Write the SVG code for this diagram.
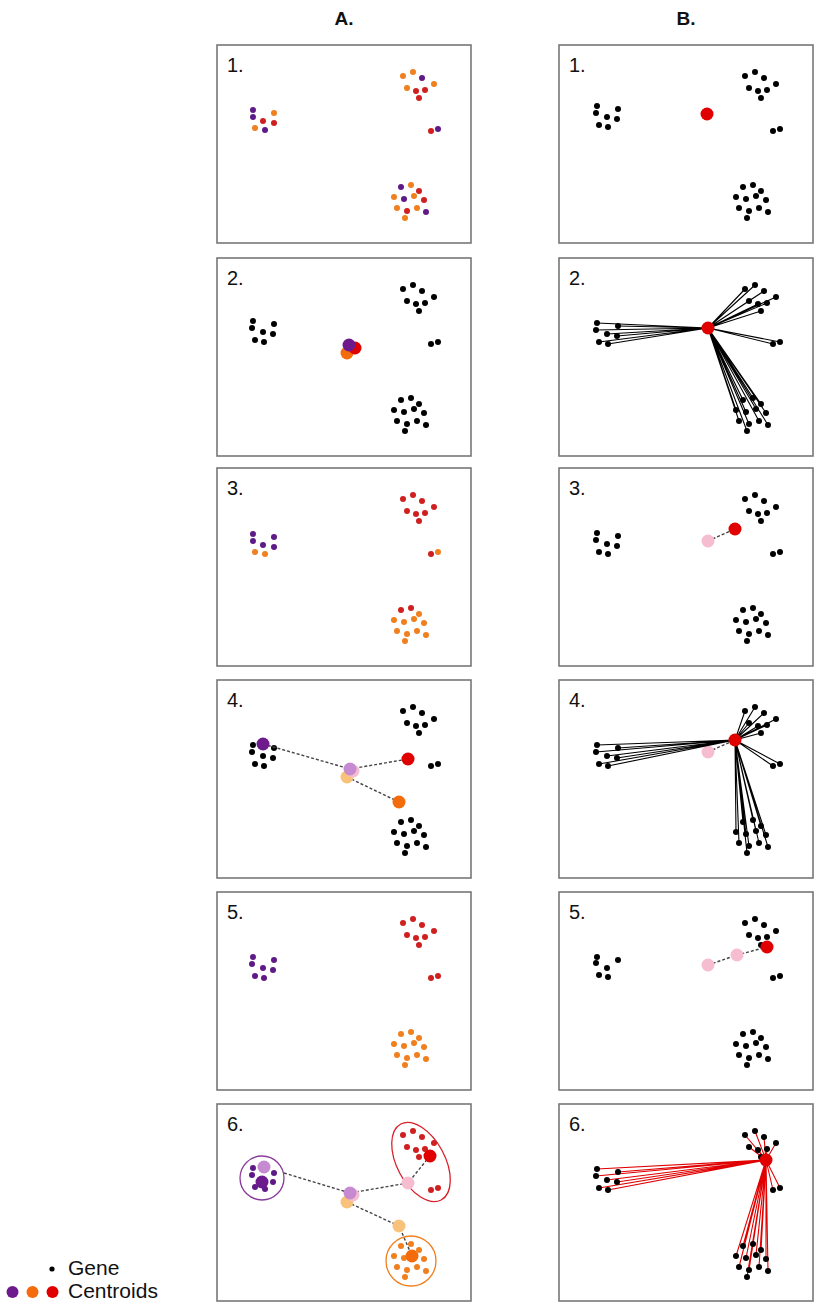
<svg xmlns="http://www.w3.org/2000/svg" width="823" height="1302" viewBox="0 0 823 1302">
<style>
.box{fill:#fff;stroke:#777;stroke-width:1.6}
.num{font-family:"Liberation Sans",Arial,sans-serif;font-size:20px;fill:#111}
.hdr{font-family:"Liberation Sans",Arial,sans-serif;font-size:19px;font-weight:bold;fill:#111}
.leg{font-family:"Liberation Sans",Arial,sans-serif;font-size:21px;fill:#111}
.p{fill:#5e1a86}.o{fill:#f07f1e}.r{fill:#cf1f1f}
.cp{fill:#6c1a8c}.co{fill:#f46b0c}.cr{fill:#e00000}
.gp{fill:#c58ad0}.go{fill:#f9c27a}.gk{fill:#f6bcd0}
.dash{stroke:#444;stroke-width:1.4;stroke-dasharray:3 2;fill:none}
.ln{stroke:#000;stroke-width:1.1;fill:none}
.lr{stroke:#e00000;stroke-width:1.1;fill:none}
</style>
<defs>
<g id="gL"><circle cx="38" cy="65" r="3"/><circle cx="37" cy="72" r="3"/><circle cx="59" cy="68" r="3"/><circle cx="48" cy="76" r="3"/><circle cx="58" cy="78" r="3"/><circle cx="40" cy="84" r="3"/><circle cx="49" cy="86" r="3"/></g>
<g id="gR"><circle cx="186" cy="31" r="3"/><circle cx="196" cy="27" r="3"/><circle cx="205" cy="33" r="3"/><circle cx="190" cy="43" r="3"/><circle cx="199" cy="46" r="3"/><circle cx="208" cy="45" r="3"/><circle cx="217" cy="39" r="3"/><circle cx="202" cy="53" r="3"/>
<circle cx="214" cy="86" r="3"/><circle cx="221" cy="84" r="3"/>
<circle cx="184" cy="142" r="3"/><circle cx="194" cy="140" r="3"/><circle cx="202" cy="146" r="3"/><circle cx="177" cy="152" r="3"/><circle cx="187" cy="154" r="3"/><circle cx="197" cy="151" r="3"/><circle cx="207" cy="155" r="3"/><circle cx="180" cy="163" r="3"/><circle cx="190" cy="166" r="3"/><circle cx="200" cy="163" r="3"/><circle cx="209" cy="167" r="3"/><circle cx="188" cy="173" r="3"/></g>
</defs>
<text class="hdr" x="344" y="25" text-anchor="middle">A.</text>
<text class="hdr" x="686" y="25" text-anchor="middle">B.</text>

<g id="A1" transform="translate(217,45)">
<rect class="box" x="0" y="0" width="254" height="198"/>
<text class="num" x="10" y="27">1.</text>
<circle class="p" cx="36" cy="65" r="3"/><circle class="p" cx="36" cy="72" r="3"/><circle class="o" cx="57" cy="68" r="3"/><circle class="r" cx="46" cy="76" r="3"/><circle class="r" cx="57" cy="78" r="3"/><circle class="o" cx="38" cy="83" r="3"/><circle class="p" cx="48" cy="85" r="3"/>
<circle class="o" cx="186" cy="31" r="3"/><circle class="o" cx="196" cy="27" r="3"/><circle class="p" cx="205" cy="33" r="3"/><circle class="o" cx="190" cy="43" r="3"/><circle class="r" cx="199" cy="46" r="3"/><circle class="r" cx="208" cy="45" r="3"/><circle class="o" cx="217" cy="39" r="3"/><circle class="r" cx="202" cy="53" r="3"/>
<circle class="r" cx="214" cy="86" r="3"/><circle class="p" cx="221" cy="84" r="3"/>
<circle class="p" cx="184" cy="142" r="3"/><circle class="o" cx="194" cy="140" r="3"/><circle class="r" cx="202" cy="146" r="3"/><circle class="o" cx="177" cy="152" r="3"/><circle class="p" cx="187" cy="154" r="3"/><circle class="o" cx="197" cy="151" r="3"/><circle class="r" cx="207" cy="155" r="3"/><circle class="o" cx="180" cy="163" r="3"/><circle class="r" cx="190" cy="166" r="3"/><circle class="o" cx="200" cy="163" r="3"/><circle class="p" cx="209" cy="167" r="3"/><circle class="o" cx="188" cy="173" r="3"/>
</g>

<g id="B1" transform="translate(559,45)">
<rect class="box" x="0" y="0" width="254" height="198"/>
<text class="num" x="10" y="27">1.</text>
<use href="#gL" y="-4" fill="#000"/><use href="#gR" fill="#000"/>
<circle class="cr" cx="148" cy="69" r="6.5"/>
</g>

<g id="A2" transform="translate(217,258)">
<rect class="box" x="0" y="0" width="254" height="198"/>
<text class="num" x="10" y="27">2.</text>
<use href="#gL" x="-2" y="-2" fill="#000"/><use href="#gR" fill="#000"/>
<circle class="co" cx="130" cy="95" r="6.5"/><circle class="cr" cx="138" cy="90" r="6.5"/><circle class="cp" cx="132" cy="87" r="6.5"/>
</g>

<g id="B2" transform="translate(559,258)">
<rect class="box" x="0" y="0" width="254" height="198"/>
<text class="num" x="10" y="27">2.</text>
<path class="ln" d="M149 70L38 65M149 70L37 72M149 70L59 68M149 70L48 76M149 70L58 78M149 70L40 84M149 70L49 86M149 70L186 31M149 70L196 27M149 70L205 33M149 70L190 43M149 70L199 46M149 70L208 45M149 70L217 39M149 70L202 53M149 70L214 86M149 70L221 84M149 70L184 142M149 70L194 140M149 70L202 146M149 70L177 152M149 70L187 154M149 70L197 151M149 70L207 155M149 70L180 163M149 70L190 166M149 70L200 163M149 70L209 167M149 70L188 173"/>
<use href="#gL" fill="#000"/><use href="#gR" fill="#000"/>
<circle class="cr" cx="149" cy="70" r="6.5"/>
</g>

<g id="A3" transform="translate(217,468)">
<rect class="box" x="0" y="0" width="254" height="198"/>
<text class="num" x="10" y="27">3.</text>
<circle class="p" cx="36" cy="66" r="3"/><circle class="p" cx="36" cy="73" r="3"/><circle class="p" cx="57" cy="69" r="3"/><circle class="p" cx="46" cy="77" r="3"/><circle class="p" cx="57" cy="79" r="3"/><circle class="o" cx="38" cy="84" r="3"/><circle class="o" cx="48" cy="86" r="3"/>
<g class="r"><circle cx="186" cy="31" r="3"/><circle cx="196" cy="27" r="3"/><circle cx="205" cy="33" r="3"/><circle cx="190" cy="43" r="3"/><circle cx="199" cy="46" r="3"/><circle cx="208" cy="45" r="3"/><circle cx="217" cy="39" r="3"/><circle cx="202" cy="53" r="3"/></g>
<circle class="r" cx="214" cy="86" r="3"/><circle class="o" cx="221" cy="84" r="3"/>
<circle class="r" cx="184" cy="142" r="3"/><circle class="r" cx="194" cy="140" r="3"/><g class="o"><circle cx="202" cy="146" r="3"/><circle cx="177" cy="152" r="3"/><circle cx="187" cy="154" r="3"/><circle cx="197" cy="151" r="3"/><circle cx="207" cy="155" r="3"/><circle cx="180" cy="163" r="3"/><circle cx="190" cy="166" r="3"/><circle cx="200" cy="163" r="3"/><circle cx="209" cy="167" r="3"/><circle cx="188" cy="173" r="3"/></g>
</g>

<g id="B3" transform="translate(559,468)">
<rect class="box" x="0" y="0" width="254" height="198"/>
<text class="num" x="10" y="27">3.</text>
<use href="#gL" fill="#000"/><use href="#gR" fill="#000"/>
<path class="dash" d="M149 73L176 61"/>
<circle class="gk" cx="149" cy="73" r="6.5"/><circle class="cr" cx="176" cy="61" r="6.5"/>
</g>

<g id="A4" transform="translate(217,680)">
<rect class="box" x="0" y="0" width="254" height="198"/>
<text class="num" x="10" y="27">4.</text>
<use href="#gL" x="-2" fill="#000"/><use href="#gR" fill="#000"/>
<path class="dash" d="M46 64L133 89L191 79M130 97L182 122"/>
<circle class="go" cx="130" cy="97" r="6.5"/><circle class="gk" cx="136" cy="91" r="6.5"/><circle class="gp" cx="133" cy="89" r="6.5"/>
<circle class="cp" cx="46" cy="64" r="6.5"/><circle class="cr" cx="191" cy="79" r="6.5"/><circle class="co" cx="182" cy="122" r="6.5"/>
</g>

<g id="B4" transform="translate(559,680)">
<rect class="box" x="0" y="0" width="254" height="198"/>
<text class="num" x="10" y="27">4.</text>
<path class="dash" d="M149 72L176 60"/>
<circle class="gk" cx="149" cy="72" r="6.5"/>
<path class="ln" d="M176 60L38 65M176 60L37 72M176 60L59 68M176 60L48 76M176 60L58 78M176 60L40 84M176 60L49 86M176 60L186 31M176 60L196 27M176 60L205 33M176 60L190 43M176 60L199 46M176 60L208 45M176 60L217 39M176 60L202 53M176 60L214 86M176 60L221 84M176 60L184 142M176 60L194 140M176 60L202 146M176 60L177 152M176 60L187 154M176 60L197 151M176 60L207 155M176 60L180 163M176 60L190 166M176 60L200 163M176 60L209 167M176 60L188 173"/>
<use href="#gL" fill="#000"/><use href="#gR" fill="#000"/>
<circle class="cr" cx="176" cy="60" r="6.5"/>
</g>

<g id="A5" transform="translate(217,892)">
<rect class="box" x="0" y="0" width="254" height="198"/>
<text class="num" x="10" y="27">5.</text>
<use href="#gL" x="-2" class="p"/>
<g class="r"><circle cx="186" cy="31" r="3"/><circle cx="196" cy="27" r="3"/><circle cx="205" cy="33" r="3"/><circle cx="190" cy="43" r="3"/><circle cx="199" cy="46" r="3"/><circle cx="208" cy="45" r="3"/><circle cx="217" cy="39" r="3"/><circle cx="202" cy="53" r="3"/>
<circle cx="214" cy="86" r="3"/><circle cx="221" cy="84" r="3"/></g>
<g class="o"><circle cx="184" cy="142" r="3"/><circle cx="194" cy="140" r="3"/><circle cx="202" cy="146" r="3"/><circle cx="177" cy="152" r="3"/><circle cx="187" cy="154" r="3"/><circle cx="197" cy="151" r="3"/><circle cx="207" cy="155" r="3"/><circle cx="180" cy="163" r="3"/><circle cx="190" cy="166" r="3"/><circle cx="200" cy="163" r="3"/><circle cx="209" cy="167" r="3"/><circle cx="188" cy="173" r="3"/></g>
</g>

<g id="B5" transform="translate(559,892)">
<rect class="box" x="0" y="0" width="254" height="198"/>
<text class="num" x="10" y="27">5.</text>
<g fill="#000"><circle cx="38" cy="65" r="3"/><circle cx="37" cy="71" r="3"/><circle cx="59" cy="68" r="3"/><circle cx="48" cy="76" r="3"/><circle cx="40" cy="83" r="3"/><circle cx="49" cy="85" r="3"/></g>
<use href="#gR" fill="#000"/>
<path class="dash" d="M149 73L178 63L208 55"/>
<circle class="gk" cx="149" cy="73" r="6.5"/><circle class="gk" cx="178" cy="63" r="6.5"/><circle class="cr" cx="208" cy="55" r="6.5"/>
</g>

<g id="A6" transform="translate(217,1104)">
<rect class="box" x="0" y="0" width="254" height="197"/>
<text class="num" x="10" y="27">6.</text>
<path class="dash" d="M67 69L133 89L191 79L213 52M130 98L182 122L195 152"/>
<circle fill="none" stroke="#8a3a9a" stroke-width="1.3" cx="45" cy="74" r="22"/>
<ellipse fill="none" stroke="#d81f2a" stroke-width="1.3" cx="204" cy="58" rx="24" ry="43" transform="rotate(-28 204 58)"/>
<circle fill="none" stroke="#f07f1e" stroke-width="1.3" cx="194" cy="157" r="25"/>
<g class="p"><circle cx="36" cy="64" r="3"/><circle cx="35" cy="71" r="3"/><circle cx="57" cy="69" r="3"/><circle cx="56" cy="78" r="3"/><circle cx="38" cy="83" r="3"/><circle cx="48" cy="85" r="3"/></g>
<g class="r"><circle cx="186" cy="31" r="3"/><circle cx="196" cy="27" r="3"/><circle cx="205" cy="33" r="3"/><circle cx="190" cy="43" r="3"/><circle cx="199" cy="46" r="3"/><circle cx="208" cy="45" r="3"/><circle cx="217" cy="39" r="3"/><circle cx="202" cy="53" r="3"/>
<circle cx="214" cy="86" r="3"/><circle cx="221" cy="84" r="3"/></g>
<g class="o"><circle cx="184" cy="142" r="3"/><circle cx="194" cy="140" r="3"/><circle cx="202" cy="146" r="3"/><circle cx="177" cy="152" r="3"/><circle cx="187" cy="154" r="3"/><circle cx="197" cy="151" r="3"/><circle cx="207" cy="155" r="3"/><circle cx="180" cy="163" r="3"/><circle cx="190" cy="166" r="3"/><circle cx="200" cy="163" r="3"/><circle cx="209" cy="167" r="3"/><circle cx="188" cy="173" r="3"/></g>
<circle class="gp" cx="47" cy="63" r="6.5"/><circle class="cp" cx="45" cy="78" r="6.5"/>
<circle class="go" cx="130" cy="98" r="6.5"/><circle class="gk" cx="136" cy="91" r="6.5"/><circle class="gp" cx="133" cy="89" r="6.5"/>
<circle class="gk" cx="191" cy="79" r="6.5"/><circle class="go" cx="182" cy="122" r="6.5"/>
<circle class="cr" cx="213" cy="52" r="6.5"/><circle class="co" cx="195" cy="152" r="6.5"/>
</g>

<g id="B6" transform="translate(559,1104)">
<rect class="box" x="0" y="0" width="254" height="197"/>
<text class="num" x="10" y="27">6.</text>
<path class="lr" d="M207 56L38 65M207 56L37 72M207 56L59 68M207 56L48 76M207 56L58 78M207 56L40 84M207 56L49 86M207 56L186 31M207 56L196 27M207 56L205 33M207 56L190 43M207 56L199 46M207 56L208 45M207 56L217 39M207 56L202 53M207 56L214 86M207 56L221 84M207 56L184 142M207 56L194 140M207 56L202 146M207 56L177 152M207 56L187 154M207 56L197 151M207 56L207 155M207 56L180 163M207 56L190 166M207 56L200 163M207 56L209 167M207 56L188 173"/>
<use href="#gL" fill="#000"/><use href="#gR" fill="#000"/>
<circle class="cr" cx="207" cy="56" r="6.5"/>
</g>

<g id="legend">
<circle cx="52" cy="1269" r="2.6" fill="#000"/>
<text class="leg" x="68" y="1275">Gene</text>
<circle class="cp" cx="12.5" cy="1292" r="6"/><circle class="co" cx="32.5" cy="1292" r="6"/><circle class="cr" cx="52.5" cy="1292" r="6"/>
<text class="leg" x="68" y="1298">Centroids</text>
</g>
</svg>
